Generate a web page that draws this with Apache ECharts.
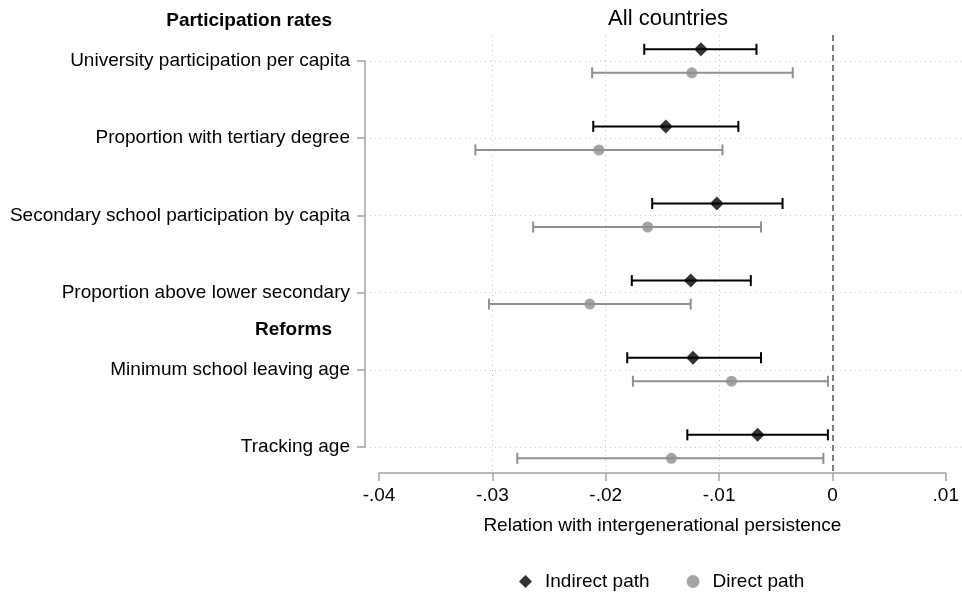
<!DOCTYPE html>
<html>
<head>
<meta charset="utf-8">
<script src="https://cdn.jsdelivr.net/npm/echarts@6/dist/echarts.min.js"></script>
<style>
  html, body { margin: 0; padding: 0; background: #fff; }
  #chart { width: 962px; height: 592px; }
</style>
</head>
<body>
<div id="chart"></div>
<script>
// Education measures, top to bottom
const categories = [
  'University participation per capita',
  'Proportion with tertiary degree',
  'Secondary school participation by capita',
  'Proportion above lower secondary',
  'Minimum school leaving age',
  'Tracking age'
];

// Group headings and the row position they sit at (between rows)
const groupLabels = ['Participation rates', 'Reforms'];
const groupRows = [0.5, 4.5];

// Indirect path: estimate with 95% CI
const indirectEst = [-0.0116, -0.0147, -0.0102, -0.0125, -0.0123, -0.0066];
const indirectLo  = [-0.0166, -0.0211, -0.0159, -0.0177, -0.0181, -0.0128];
const indirectHi  = [-0.0067, -0.0083, -0.0044, -0.0072, -0.0063, -0.0004];

// Direct path: estimate with 95% CI
const directEst = [-0.0124, -0.0206, -0.0163, -0.0214, -0.0089, -0.0142];
const directLo  = [-0.0212, -0.0315, -0.0264, -0.0303, -0.0176, -0.0278];
const directHi  = [-0.0035, -0.0097, -0.0063, -0.0125, -0.0004, -0.0008];

// x axis ticks
const xTicks = [-0.04, -0.03, -0.02, -0.01, 0, 0.01];
const xTickLabels = ['-.04', '-.03', '-.02', '-.01', '0', '.01'];

const FONT = '"Liberation Sans", Arial, Helvetica, sans-serif';
const FS = 19;
const BLACK = '#000000';
const GREY = '#8f8f8f';
const AXIS_GREY = '#a3a3a3';
const GRID_GREY = '#c4c4c4';

// vertical offsets of the two paths around each row
const OFF_IND = -0.155;
const OFF_DIR = 0.15;

const yMin = 0.66, yMax = 6.34;
const xMin = xTicks[0], xMax = xTicks[xTicks.length - 1];
const xStep = xTicks[1] - xTicks[0];

function rowOf(i) { return i + 1; }

const indBars = categories.map((c, i) => [indirectLo[i], indirectHi[i], rowOf(i) + OFF_IND]);
const dirBars = categories.map((c, i) => [directLo[i], directHi[i], rowOf(i) + OFF_DIR]);
const indPts = categories.map((c, i) => [indirectEst[i], rowOf(i) + OFF_IND]);
const dirPts = categories.map((c, i) => [directEst[i], rowOf(i) + OFF_DIR]);

function errorBar(color) {
  return function (params, api) {
    const a = api.coord([api.value(0), api.value(2)]);
    const b = api.coord([api.value(1), api.value(2)]);
    const h = 5.5;
    const style = { stroke: color, lineWidth: 2 };
    return {
      type: 'group',
      children: [
        { type: 'line', shape: { x1: a[0], y1: a[1], x2: b[0], y2: b[1] }, style },
        { type: 'line', shape: { x1: a[0], y1: a[1] - h, x2: a[0], y2: a[1] + h }, style },
        { type: 'line', shape: { x1: b[0], y1: b[1] - h, x2: b[0], y2: b[1] + h }, style }
      ]
    };
  };
}

const chart = echarts.init(document.getElementById('chart'), null, { renderer: 'canvas' });

const option = {
  backgroundColor: '#ffffff',
  animation: false,
  textStyle: { fontFamily: FONT },
  title: {
    text: 'All countries',
    left: 663,
    top: 3,
    textAlign: 'center',
    textStyle: { fontFamily: FONT, fontSize: 22, fontWeight: 'normal', color: BLACK }
  },
  legend: {
    top: 567,
    left: 514,
    itemGap: 37,
    itemWidth: 13,
    itemHeight: 13,
    textStyle: { fontFamily: FONT, fontSize: FS, color: BLACK, padding: [0, 0, 0, 8] },
    data: [
      { name: 'Indirect path', icon: 'diamond', itemStyle: { color: BLACK } },
      { name: 'Direct path', icon: 'circle', itemStyle: { color: GREY } }
    ]
  },
  grid: [
    { left: 379, right: 15, top: 35, bottom: 119 },
    { left: 365, right: 0, top: 61, bottom: 145 }
  ],
  xAxis: [
    {
      gridIndex: 0,
      type: 'value',
      min: xMin,
      max: xMax,
      interval: xStep,
      name: 'Relation with intergenerational persistence',
      nameLocation: 'middle',
      nameGap: 43,
      nameTextStyle: { fontFamily: FONT, fontSize: FS, color: BLACK },
      axisLine: { show: true, lineStyle: { color: AXIS_GREY, width: 1.5 } },
      axisTick: { show: true, length: 8, lineStyle: { color: AXIS_GREY, width: 1.5 } },
      axisLabel: {
        fontFamily: FONT, fontSize: FS, color: BLACK, margin: 13,
        formatter: function (v) {
          const k = Math.round((v - xMin) / xStep);
          return xTickLabels[k] !== undefined ? xTickLabels[k] : '';
        }
      },
      splitLine: {
        show: true,
        showMinLine: false,
        showMaxLine: false,
        lineStyle: { color: GRID_GREY, width: 1, type: [1, 4] }
      }
    },
    { gridIndex: 1, type: 'value', show: false }
  ],
  yAxis: [
    {
      gridIndex: 0,
      type: 'value',
      inverse: true,
      min: yMin,
      max: yMax,
      show: false,
      splitLine: { show: false }
    },
    {
      gridIndex: 1,
      type: 'category',
      inverse: true,
      boundaryGap: false,
      data: categories,
      axisLine: { show: true, lineStyle: { color: AXIS_GREY, width: 1.5 } },
      axisTick: { show: true, length: 8, lineStyle: { color: AXIS_GREY, width: 1.5 } },
      axisLabel: { fontFamily: FONT, fontSize: FS, color: BLACK, margin: 15 },
      splitLine: { show: true, lineStyle: { color: GRID_GREY, width: 1, type: [1, 4] } }
    }
  ],
  series: [
    {
      type: 'custom',
      name: 'Direct CI',
      xAxisIndex: 0, yAxisIndex: 0,
      renderItem: errorBar(GREY),
      encode: { x: [0, 1], y: 2 },
      data: dirBars,
      z: 3,
      markLine: {
        silent: true,
        symbol: 'none',
        label: { show: false },
        lineStyle: { color: '#555555', width: 1.5, type: [6, 4] },
        data: [{ xAxis: 0 }],
        z: 2
      }
    },
    {
      type: 'custom',
      name: 'Indirect CI',
      xAxisIndex: 0, yAxisIndex: 0,
      renderItem: errorBar(BLACK),
      encode: { x: [0, 1], y: 2 },
      data: indBars,
      z: 3
    },
    {
      type: 'scatter',
      name: 'Direct path',
      xAxisIndex: 0, yAxisIndex: 0,
      symbol: 'circle',
      symbolSize: 11,
      itemStyle: { color: GREY },
      data: dirPts,
      z: 4
    },
    {
      type: 'scatter',
      name: 'Indirect path',
      xAxisIndex: 0, yAxisIndex: 0,
      symbol: 'diamond',
      symbolSize: 14,
      itemStyle: { color: BLACK },
      data: indPts,
      z: 4
    }
  ]
};

chart.setOption(option);

// Bold group headings placed at their row positions
const headings = groupLabels.map((t, i) => {
  const y = chart.convertToPixel({ yAxisIndex: 0 }, groupRows[i]);
  return {
    type: 'text',
    right: 962 - 332,
    top: y - 11,
    style: {
      text: t,
      fontFamily: FONT,
      fontSize: FS,
      fontWeight: 'bold',
      fill: BLACK,
      textAlign: 'right'
    }
  };
});
chart.setOption({ graphic: headings });
</script>
</body>
</html>
